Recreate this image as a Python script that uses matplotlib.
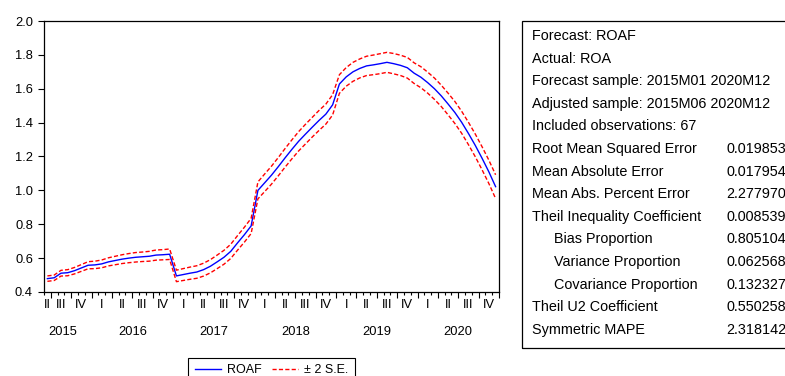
import numpy as np
import pandas as pd
import matplotlib
matplotlib.use("Agg")
import matplotlib.pyplot as plt
from matplotlib.patches import Rectangle
from matplotlib.ticker import FormatStrFormatter

plt.rcParams['font.family'] = ['Liberation Sans', 'DejaVu Sans']

# forecast series, monthly from 2015M06 to 2020M12
start_month = '2015-06'
roaf = [0.479, 0.484, 0.511, 0.514, 0.526, 0.542, 0.558, 0.560, 0.566, 0.578,
        0.586, 0.594, 0.600, 0.605, 0.608, 0.611, 0.618, 0.620, 0.623,
        0.495, 0.503, 0.511, 0.518, 0.532, 0.552, 0.578, 0.605, 0.640, 0.690,
        0.738, 0.790,
        1.000, 1.045, 1.090, 1.140, 1.192, 1.242, 1.290, 1.332, 1.373, 1.413,
        1.450, 1.505,
        1.628, 1.670, 1.700, 1.720, 1.735, 1.741, 1.748, 1.756, 1.748, 1.738,
        1.724, 1.692, 1.668, 1.636, 1.600, 1.558, 1.510, 1.460, 1.402, 1.336,
        1.266, 1.190, 1.110, 1.022]
# half width of the +/- 2 S.E. band
se2 = [0.016, 0.016, 0.017, 0.018, 0.019, 0.020, 0.021, 0.022, 0.023, 0.024,
       0.025, 0.026, 0.027, 0.028, 0.028, 0.029, 0.030, 0.030, 0.031,
       0.034, 0.035, 0.036, 0.037, 0.038, 0.039, 0.040, 0.041, 0.042, 0.043,
       0.044, 0.045,
       0.050, 0.052, 0.053, 0.054, 0.055, 0.056, 0.057, 0.058, 0.058, 0.059,
       0.059, 0.060,
       0.055, 0.055, 0.056, 0.056, 0.057, 0.058, 0.059, 0.059, 0.060, 0.060,
       0.061, 0.061,
       0.062, 0.062, 0.063, 0.063, 0.064, 0.065, 0.065, 0.066, 0.067, 0.068,
       0.069, 0.070]

stats_labels = ['Forecast: ROAF', 'Actual: ROA',
                'Forecast sample: 2015M01 2020M12',
                'Adjusted sample: 2015M06 2020M12',
                'Included observations: 67',
                'Root Mean Squared Error', 'Mean Absolute Error',
                'Mean Abs. Percent Error', 'Theil Inequality Coefficient',
                'Bias Proportion', 'Variance Proportion',
                'Covariance Proportion', 'Theil U2 Coefficient',
                'Symmetric MAPE']
stats_values = ['', '', '', '', '', '0.019853', '0.017954', '2.277970',
                '0.008539', '0.805104', '0.062568', '0.132327', '0.550258',
                '2.318142']
stats_indent = [False] * 9 + [True] * 3 + [False] * 2

roman = {1: 'I', 2: 'II', 3: 'III', 4: 'IV'}

months = pd.period_range(start_month, periods=len(roaf), freq='M')
x = np.arange(len(roaf))
roaf = np.array(roaf)
se2 = np.array(se2)

W, H = 785, 376
fig = plt.figure(figsize=(W / 100, H / 100), dpi=100)
ax = fig.add_axes([44 / W, 1 - 292 / H, 455 / W, 271 / H])

ax.plot(x, roaf, color='#0000ff', lw=1.0, label='ROAF')
ax.plot(x, roaf + se2, color='#ff0000', lw=1.0, ls=(0, (3, 1.6)), label='± 2 S.E.')
ax.plot(x, roaf - se2, color='#ff0000', lw=1.0, ls=(0, (3, 1.6)))

ax.set_xlim(-0.5, len(roaf) - 0.5)
ax.set_ylim(0.4, 2.0)
ax.set_yticks(np.arange(0.4, 2.01, 0.2))
ax.yaxis.set_major_formatter(FormatStrFormatter('%.1f'))
ax.tick_params(axis='y', direction='out', length=4, width=0.8, labelsize=9.3, pad=4)

# month ticks, longer at quarter starts
q_start = [i - 0.5 for i, m in enumerate(months) if m.month in (1, 4, 7, 10)]
ax.set_xticks(q_start + [len(roaf) - 0.5])
ax.set_xticks(x - 0.5, minor=True)
ax.tick_params(axis='x', which='major', direction='out', length=4, width=0.8, labelbottom=False)
ax.tick_params(axis='x', which='minor', direction='out', length=2, width=0.8)
for s in ax.spines.values():
    s.set_linewidth(0.9)

# quarter and year labels
trans = ax.get_xaxis_transform()
q_pos = {}
for i, m in enumerate(months):
    q_pos.setdefault((m.year, m.quarter), []).append(i)
year_pos = {}
for (yr, q), idx in q_pos.items():
    c = np.mean(idx)
    ax.text(c, -0.048, roman[q], transform=trans, ha='center', va='center', fontsize=9.3)
    year_pos.setdefault(yr, []).append(c)
for yr, cs in year_pos.items():
    ax.text(np.mean(cs), -0.1465, str(yr), transform=trans, ha='center', va='center', fontsize=9.3)

leg = fig.legend(loc='upper center', bbox_to_anchor=(271.5 / W, 1 - 358 / H), ncol=2,
                 fontsize=9, frameon=True, fancybox=False, edgecolor='black',
                 framealpha=1, borderpad=0.5, handlelength=2.1, handletextpad=0.5,
                 columnspacing=0.8, borderaxespad=0)
leg.get_frame().set_linewidth(0.8)

# statistics box on the right
box = Rectangle((521.7 / W, 1 - 348 / H), 0.5, (348 - 21) / H, transform=fig.transFigure,
                fill=False, ec='black', lw=0.9)
fig.add_artist(box)
for k, (lab, val, ind) in enumerate(zip(stats_labels, stats_values, stats_indent)):
    yy = 1 - (36 + 22.6 * k) / H
    fig.text((554 if ind else 531.7) / W, yy, lab, fontsize=10.4, va='center')
    if val:
        fig.text(726.7 / W, yy, val, fontsize=10.4, va='center')

fig.savefig('out.png', dpi=100)
